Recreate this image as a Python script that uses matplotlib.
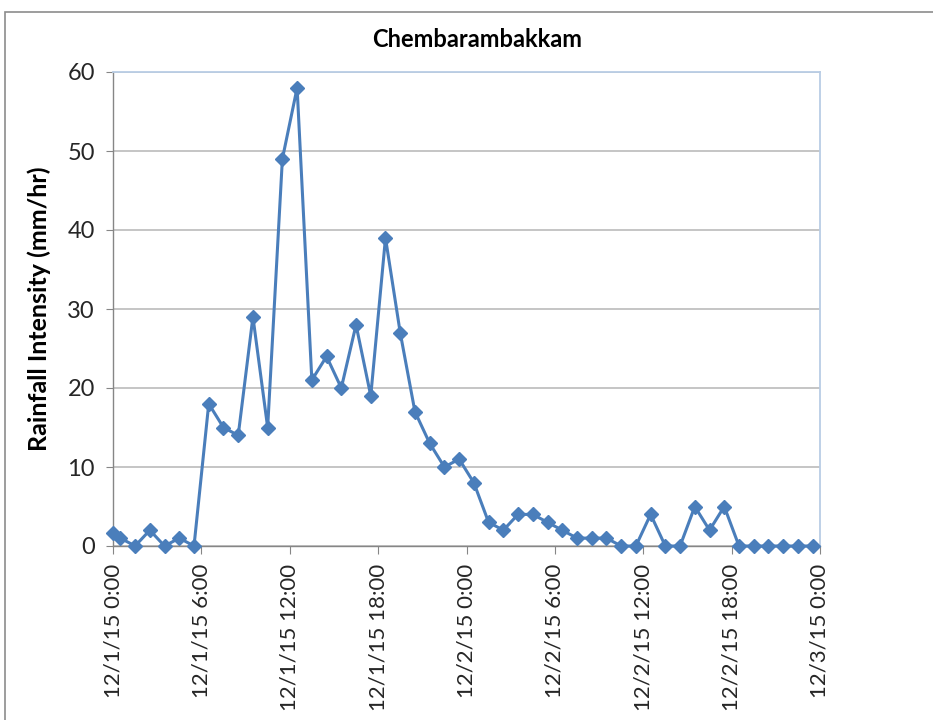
import matplotlib.pyplot as plt
from matplotlib.patches import Rectangle

plt.rcParams['font.family'] = ['Lato', 'DejaVu Sans']

# hours after 12/1/15 0:00
hours = [0.0, 0.5, 1.5, 2.5, 3.5, 4.5, 5.5, 6.5, 7.5, 8.5, 9.5, 10.5, 11.5,
         12.5, 13.5, 14.5, 15.5, 16.5, 17.5, 18.5, 19.5, 20.5, 21.5, 22.5,
         23.5, 24.5, 25.5, 26.5, 27.5, 28.5, 29.5, 30.5, 31.5, 32.5, 33.5,
         34.5, 35.5, 36.5, 37.5, 38.5, 39.5, 40.5, 41.5, 42.5, 43.5, 44.5,
         45.5, 46.5, 47.5]
rain = [1.7, 1, 0, 2, 0, 1, 0, 18, 15, 14, 29, 15, 49,
        58, 21, 24, 20, 28, 19, 39, 27, 17, 13, 10,
        11, 8, 3, 2, 4, 4, 3, 2, 1, 1, 1,
        0, 0, 4, 0, 0, 5, 2, 5, 0, 0, 0,
        0, 0, 0]

tick_hours = [0, 6, 12, 18, 24, 30, 36, 42, 48]
tick_labels = ['12/1/15 0:00', '12/1/15 6:00', '12/1/15 12:00',
               '12/1/15 18:00', '12/2/15 0:00', '12/2/15 6:00',
               '12/2/15 12:00', '12/2/15 18:00', '12/3/15 0:00']

blue = '#4a7ebb'
grid = '#c0c0c0'
axis_gray = '#868686'

fig = plt.figure(figsize=(9.33, 7.2), dpi=100)
fig.patches.append(Rectangle((5 / 933, -0.1), 1.2, 1.1 - 12 / 720,
                             transform=fig.transFigure, fill=False,
                             edgecolor='#8c8c8c', linewidth=1.2))

ax = fig.add_axes([113 / 933, 1 - 546 / 720, (820 - 113) / 933,
                   (546 - 72) / 720])
ax.plot(hours, rain, color=blue, linewidth=2.2, marker='D',
        markersize=7, markerfacecolor=blue, markeredgecolor=blue,
        clip_on=False, zorder=3)

ax.set_xlim(0, 48)
ax.set_ylim(0, 60)
ax.set_yticks(range(0, 61, 10))
ax.set_xticks(tick_hours)
ax.set_xticklabels(tick_labels, rotation=90, fontsize=16, color='#262626')
ax.tick_params(axis='y', labelsize=17, labelcolor='#262626', length=5,
               color=axis_gray, pad=8)
ax.tick_params(axis='x', length=6, color=axis_gray, pad=7)

ax.grid(axis='y', color=grid, linewidth=1.3)
ax.set_axisbelow(True)
for side in ['top', 'right']:
    ax.spines[side].set_color('#b9cde5')
    ax.spines[side].set_linewidth(1.3)
for side in ['left', 'bottom']:
    ax.spines[side].set_color(axis_gray)
    ax.spines[side].set_linewidth(1.0)

ax.set_title('Chembarambakkam', fontsize=17, fontweight='bold', pad=18,
             x=0.515)
ax.set_ylabel('Rainfall Intensity (mm/hr)', fontsize=18, fontweight='bold',
              labelpad=12)

fig.savefig('out.png', dpi=100)
